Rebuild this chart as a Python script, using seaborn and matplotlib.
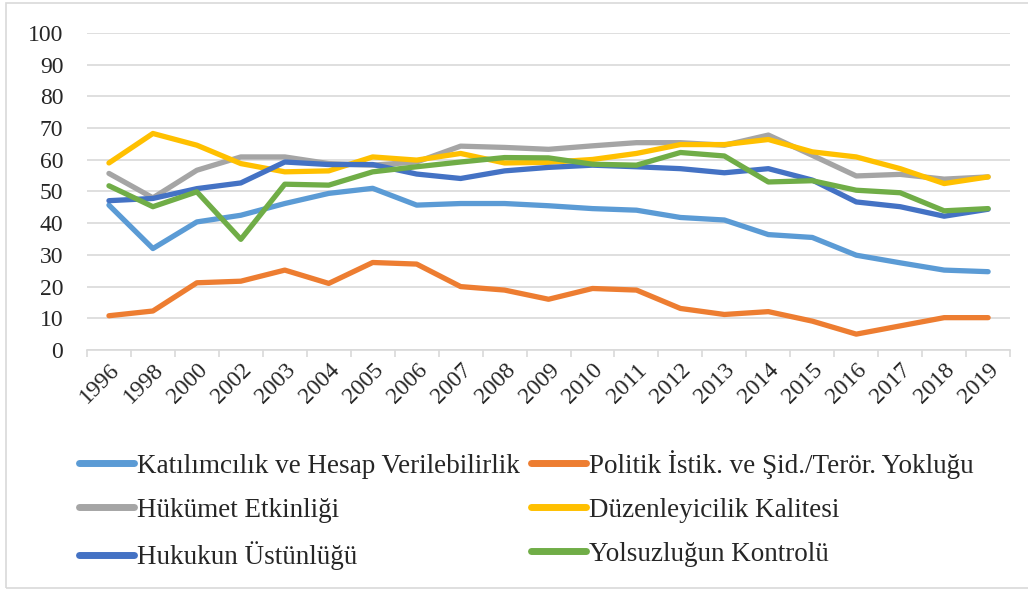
import numpy as np
import pandas as pd
import seaborn as sns
import matplotlib.pyplot as plt
from matplotlib.lines import Line2D
from matplotlib.patches import Rectangle

years = ['1996', '1998', '2000', '2002', '2003', '2004', '2005', '2006', '2007', '2008',
         '2009', '2010', '2011', '2012', '2013', '2014', '2015', '2016', '2017', '2018', '2019']

katilimcilik = [45.7, 32.0, 40.4, 42.5, 46.2, 49.4, 51.0, 45.7, 46.2, 46.2,
                45.5, 44.6, 44.1, 41.8, 41.0, 36.4, 35.5, 29.9, 27.5, 25.2, 24.7]
politik = [10.8, 12.3, 21.2, 21.7, 25.2, 21.0, 27.6, 27.1, 20.0, 18.9,
           16.0, 19.4, 18.9, 13.1, 11.2, 12.1, 9.1, 5.0, 7.6, 10.2, 10.2]
hukumet = [55.7, 48.0, 56.7, 60.9, 60.9, 58.8, 58.3, 59.3, 64.3, 63.9,
           63.3, 64.4, 65.4, 65.4, 64.6, 67.8, 61.4, 54.9, 55.4, 53.9, 54.6]
duzenleyicilik = [59.0, 68.3, 64.6, 58.8, 56.2, 56.5, 60.9, 59.9, 62.0, 59.0,
                  59.2, 60.1, 62.0, 64.8, 64.8, 66.4, 62.5, 60.9, 57.2, 52.5, 54.6]
hukuk = [47.1, 47.8, 50.9, 52.7, 59.3, 58.5, 58.5, 55.5, 54.1, 56.5,
         57.6, 58.3, 57.8, 57.2, 55.9, 57.2, 53.6, 46.7, 45.2, 42.2, 44.4]
yolsuzluk = [51.8, 45.2, 49.9, 34.9, 52.3, 52.0, 56.2, 57.8, 59.3, 60.7,
             60.6, 58.6, 58.3, 62.3, 61.2, 53.0, 53.4, 50.4, 49.6, 43.9, 44.6]

series_names = ['Katılımcılık ve Hesap Verilebilirlik', 'Politik İstik. ve Şid./Terör. Yokluğu',
                'Hükümet Etkinliği', 'Düzenleyicilik Kalitesi',
                'Hukukun Üstünlüğü', 'Yolsuzluğun Kontrolü']
series_values = [katilimcilik, politik, hukumet, duzenleyicilik, hukuk, yolsuzluk]
colors = ['#5B9BD5', '#ED7D31', '#A5A5A5', '#FFC000', '#4472C4', '#70AD47']

# long-form table for seaborn
rows = []
for name, vals in zip(series_names, series_values):
    for i, v in enumerate(vals):
        rows.append({'idx': i, 'value': v, 'series': name})
df = pd.DataFrame(rows)

sns.set_theme(style='white')
plt.rcParams['font.family'] = ['Liberation Serif', 'DejaVu Serif']

fig = plt.figure(figsize=(10.28, 5.89), dpi=100)
ax = fig.add_axes([0.0846, 0.4058, 0.898, 0.5382])

sns.lineplot(data=df, x='idx', y='value', hue='series', hue_order=series_names,
             palette=colors, linewidth=3.8, legend=False, ax=ax, sort=False)
for ln in ax.get_lines():
    ln.set_solid_capstyle('round')
    ln.set_solid_joinstyle('round')

ax.set_xlim(-0.5, len(years) - 0.5)
ax.set_ylim(0, 100)
ax.set_yticks(np.arange(0, 101, 10))
ax.yaxis.grid(True, color='#D9D9D9', linewidth=1.2)
ax.set_axisbelow(True)

ax.set_xticks(range(len(years)))
ax.set_xticklabels(years, rotation=45, ha='right', rotation_mode='anchor')
ax.set_xticks(np.arange(-0.5, len(years), 1.0), minor=True)
ax.tick_params(axis='x', which='major', length=0, pad=7, labelsize=17)
ax.tick_params(axis='x', which='minor', length=5, width=1.2, color='#D9D9D9', direction='out',
               bottom=True)
ax.tick_params(axis='y', length=0, pad=17, labelsize=17)
ax.set_xlabel('')
ax.set_ylabel('')

for s in ['top', 'right', 'left']:
    ax.spines[s].set_visible(False)
ax.spines['bottom'].set_color('#D9D9D9')
ax.spines['bottom'].set_linewidth(1.2)

# legend filled row by row like the original (matplotlib fills by column)
order = [0, 2, 4, 1, 3, 5]
handles = [Line2D([0], [0], color=colors[k], linewidth=5, solid_capstyle='round') for k in order]
labels = [series_names[k] for k in order]
fig.legend(handles, labels, ncol=2, loc='center left', bbox_to_anchor=(0.0768, 0.134),
           frameon=False, fontsize=19.5, handlelength=2.05, handletextpad=0.1,
           columnspacing=0.4, labelspacing=0.7, borderpad=0, borderaxespad=0)

# outer chart border
fig.patches.append(Rectangle((6 / 1028, 1 / 589), 1.0, 1 - 4 / 589, transform=fig.transFigure,
                             fill=False, edgecolor='#D9D9D9', linewidth=1.2, clip_on=False))

fig.savefig('out.png', dpi=100)
